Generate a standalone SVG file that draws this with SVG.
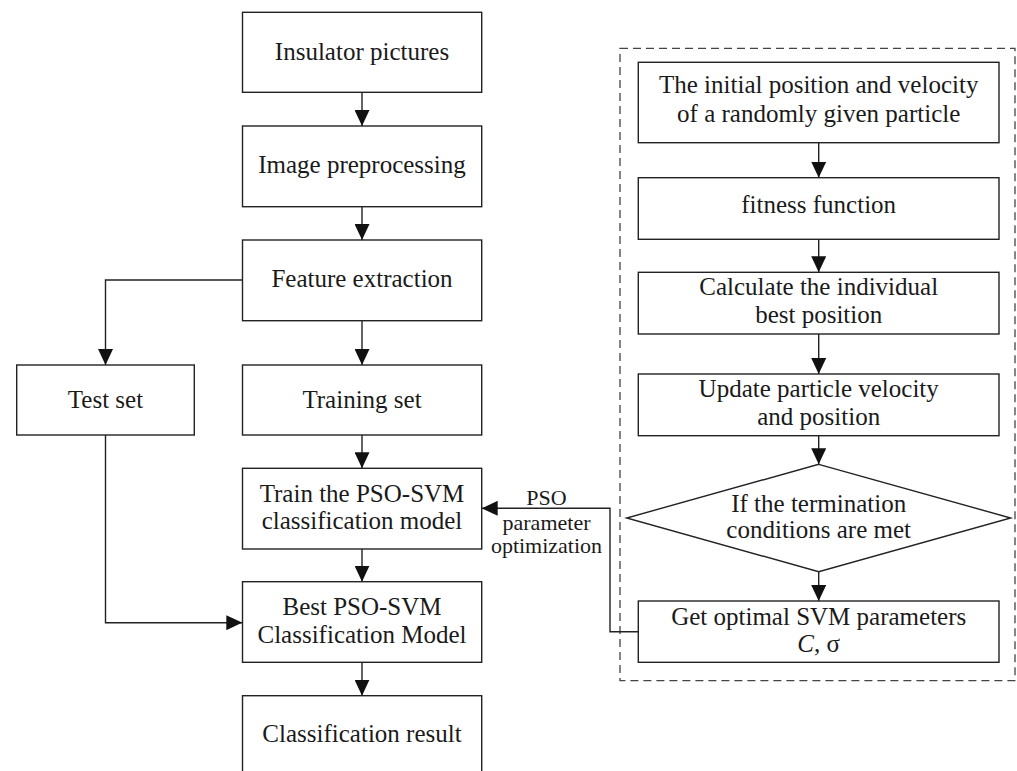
<svg xmlns="http://www.w3.org/2000/svg" width="1017" height="771" viewBox="0 0 1017 771">
<style>
.box{fill:#fff;stroke:#222;stroke-width:1.4}
.t{font-family:"Liberation Serif","Times New Roman",serif;font-size:25px;fill:#1a1a1a;text-anchor:middle}
.lbl{font-family:"Liberation Serif","Times New Roman",serif;font-size:22px;fill:#1a1a1a;text-anchor:middle}
.c{fill:none;stroke:#222;stroke-width:1.4}
.dash{fill:none;stroke:#444;stroke-width:1.3;stroke-dasharray:8 5}
</style>
<defs>
<marker id="ah" markerUnits="userSpaceOnUse" markerWidth="16" markerHeight="15" refX="16" refY="7.5" orient="auto">
<path d="M0,0 L16,7.5 L0,15 z" fill="#111"/>
</marker>
</defs>
<rect width="1017" height="771" fill="#fff"/>
<rect class="dash" x="620" y="48.3" width="395" height="632.4"/>
<g id="connectors">
<path class="c" marker-end="url(#ah)" d="M362,92.3 V126"/>
<path class="c" marker-end="url(#ah)" d="M362,206.7 V240"/>
<path class="c" marker-end="url(#ah)" d="M362,320.7 V365"/>
<path class="c" marker-end="url(#ah)" d="M242.3,280 H105.5 V365"/>
<path class="c" marker-end="url(#ah)" d="M362,435 V468.3"/>
<path class="c" marker-end="url(#ah)" d="M362,549 V581.7"/>
<path class="c" marker-end="url(#ah)" d="M362,662.3 V695.7"/>
<path class="c" marker-end="url(#ah)" d="M105.5,435 V622.7 H242.3"/>
<path class="c" marker-end="url(#ah)" d="M638.3,631.7 H610 V508.3 H481.7"/>
<path class="c" marker-end="url(#ah)" d="M818.7,142.7 V177.7"/>
<path class="c" marker-end="url(#ah)" d="M818.7,239.3 V272.3"/>
<path class="c" marker-end="url(#ah)" d="M818.7,334 V374"/>
<path class="c" marker-end="url(#ah)" d="M818.7,435.7 V464.3"/>
<path class="c" marker-end="url(#ah)" d="M818.7,571.7 V601"/>
<text class="lbl" x="546.5" y="505">PSO</text>
<text class="lbl" x="546.5" y="530">parameter</text>
<text class="lbl" x="546.5" y="553.3">optimization</text>
</g>
<g id="insulator"><rect class="box" x="242.5" y="12.3" width="239.2" height="80"/><text class="t" x="362" y="60">Insulator pictures</text></g>
<g id="preprocess"><rect class="box" x="242.5" y="126" width="239.2" height="80.7"/><text class="t" x="362" y="173.3">Image preprocessing</text></g>
<g id="feature"><rect class="box" x="242.5" y="240" width="239.2" height="80.7"/><text class="t" x="362" y="287">Feature extraction</text></g>
<g id="testset"><rect class="box" x="16.7" y="365" width="177.6" height="70"/><text class="t" x="105.5" y="408.3">Test set</text></g>
<g id="trainingset"><rect class="box" x="242.5" y="365" width="239.2" height="70"/><text class="t" x="362" y="408.3">Training set</text></g>
<g id="train"><rect class="box" x="242.5" y="468.3" width="239.2" height="80.7"/><text class="t" x="362" y="501.7">Train the PSO-SVM</text><text class="t" x="362" y="529.3">classification model</text></g>
<g id="best"><rect class="box" x="242.5" y="581.7" width="239.2" height="80.6"/><text class="t" x="362" y="615">Best PSO-SVM</text><text class="t" x="362" y="643.3">Classification Model</text></g>
<g id="result"><rect class="box" x="242.5" y="695.7" width="239.2" height="80.3"/><text class="t" x="362" y="742.3">Classification result</text></g>
<g id="init"><rect class="box" x="638.3" y="62.3" width="360.7" height="80.4"/><text class="t" x="818.7" y="93.3">The initial position and velocity</text><text class="t" x="818.7" y="121.7">of a randomly given particle</text></g>
<g id="fitness"><rect class="box" x="638.3" y="177.7" width="360.7" height="61.6"/><text class="t" x="818.7" y="213.3">fitness function</text></g>
<g id="calc"><rect class="box" x="638.3" y="272.3" width="360.7" height="61.7"/><text class="t" x="818.7" y="295">Calculate the individual</text><text class="t" x="818.7" y="323.3">best position</text></g>
<g id="update"><rect class="box" x="638.3" y="374" width="360.7" height="61.7"/><text class="t" x="818.7" y="397.3">Update particle velocity</text><text class="t" x="818.7" y="425">and position</text></g>
<g id="decision"><polygon class="box" points="818.7,464.3 1010.7,518 818.7,571.7 626.7,518"/><text class="t" x="818.7" y="511.7">If the termination</text><text class="t" x="818.7" y="538.3">conditions are met</text></g>
<g id="optimal"><rect class="box" x="638.3" y="601" width="360.7" height="61.3"/><text class="t" x="818.7" y="625">Get optimal SVM parameters</text><text class="t" x="818.7" y="651.7"><tspan font-style="italic">C</tspan>, σ</text></g>
</svg>
